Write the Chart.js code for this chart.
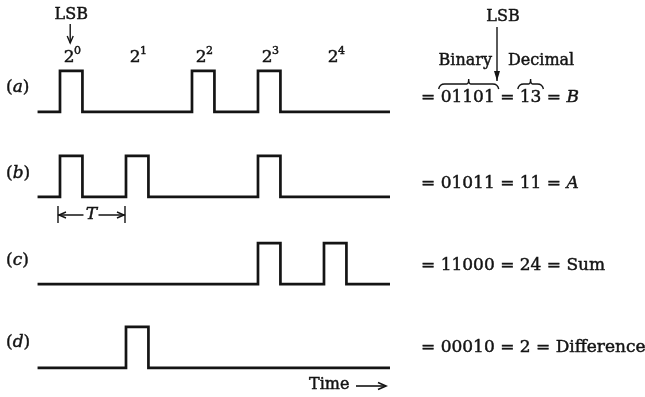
<!DOCTYPE html>
<html>
<head>
<meta charset="utf-8">
<script src="https://cdn.jsdelivr.net/npm/chart.js@4"></script>
<style>
  html, body { margin: 0; padding: 0; background: #fff; }
  #wrap { width: 645px; height: 397px; }
</style>
</head>
<body>
<div id="wrap"><canvas id="c" width="645" height="397"></canvas></div>
<script>
// ---- data (bit i = coefficient of 2^i, LSB first in time) ----
const exponents   = [0, 1, 2, 3, 4];
const rowLetters  = ['a', 'b', 'c', 'd'];
const bitsB       = [1, 0, 1, 1, 0];   // 01101 = 13 = B
const bitsA       = [1, 1, 0, 1, 0];   // 01011 = 11 = A
const bitsSum     = [0, 0, 0, 1, 1];   // 11000 = 24 = Sum
const bitsDiff    = [0, 1, 0, 0, 0];   // 00010 = 2 = Difference
const binaryText  = ['01101', '01011', '11000', '00010'];
const decimalText = ['13', '11', '24', '2'];
const nameText    = ['B', 'A', 'Sum', 'Difference'];

const rows = [bitsB, bitsA, bitsSum, bitsDiff];

// ---- layout ----
const rowBase = [0, -2.07, -4.2, -6.24];
const PULSE_W = 0.34;
const LINE_START = -0.34, LINE_END = 5.0;

function pulseTrain(bits, base) {
  const pts = [{x: LINE_START, y: base}];
  bits.forEach((b, i) => {
    if (b) {
      pts.push({x: i, y: base}, {x: i, y: base + 1},
               {x: i + PULSE_W, y: base + 1}, {x: i + PULSE_W, y: base});
    }
  });
  pts.push({x: LINE_END, y: base});
  return pts;
}

const SERIF = '"DejaVu Serif", serif';
const INK = '#141414';

function ft(ctx, t, x, y) {
  ctx.fillText(t, x, y);
  const lw = ctx.lineWidth;
  ctx.lineWidth = 0.45;
  ctx.strokeText(t, x, y);
  ctx.lineWidth = lw;
}

function drawRuns(ctx, x, y, parts) {
  const pos = [];
  parts.forEach(p => {
    ctx.font = p.f;
    const w = ctx.measureText(p.t).width;
    ft(ctx, p.t, x, y);
    pos.push({x0: x, x1: x + w});
    x += w;
  });
  return pos;
}

function arrowHead(ctx, x, y, dir, len, half) {
  ctx.beginPath();
  if (dir === 'down') { ctx.moveTo(x - half, y - len); ctx.lineTo(x, y); ctx.lineTo(x + half, y - len); }
  if (dir === 'left') { ctx.moveTo(x + len, y - half); ctx.lineTo(x, y); ctx.lineTo(x + len, y + half); }
  if (dir === 'right') { ctx.moveTo(x - len, y - half); ctx.lineTo(x, y); ctx.lineTo(x - len, y + half); }
  ctx.stroke();
}

function brace(ctx, x1, x2, y) {
  const mid = (x1 + x2) / 2;
  ctx.beginPath();
  ctx.moveTo(x1, y + 5);
  ctx.quadraticCurveTo(x1 + 1, y, x1 + 6, y);
  ctx.lineTo(mid - 2, y);
  ctx.quadraticCurveTo(mid, y, mid, y - 5);
  ctx.quadraticCurveTo(mid, y, mid + 2, y);
  ctx.lineTo(x2 - 6, y);
  ctx.quadraticCurveTo(x2 - 1, y, x2, y + 5);
  ctx.stroke();
}

const annotations = {
  id: 'annotations',
  afterDraw(chart) {
    const ctx = chart.ctx;
    const xs = chart.scales.x;
    ctx.save();
    ctx.fillStyle = INK;
    ctx.strokeStyle = INK;
    ctx.lineWidth = 1.4;
    ctx.textBaseline = 'middle';
    const R = '17px ' + SERIF, I = 'italic 17px ' + SERIF;

    // exponent labels 2^i
    exponents.forEach(e => {
      const cx = xs.getPixelForValue(e + PULSE_W / 2);
      ctx.font = R;
      ctx.textAlign = 'left';
      const w2 = ctx.measureText('2').width;
      ft(ctx, '2', cx - w2 / 2 - 2, 58);
      ctx.font = '11px ' + SERIF;
      ft(ctx, String(e), cx + w2 / 2 - 2.5, 51);
    });

    // LSB above 2^0
    const lx = xs.getPixelForValue(PULSE_W / 2) - 1;
    ctx.font = '16px ' + SERIF;
    ctx.textAlign = 'center';
    ft(ctx, 'LSB', lx + 1, 15);
    ctx.beginPath(); ctx.moveTo(lx, 24); ctx.lineTo(lx, 43); ctx.stroke();
    arrowHead(ctx, lx, 43, 'down', 7, 3);

    // row labels (a)...(d)
    ctx.textAlign = 'left';
    const labelY = [88, 174, 261, 343];
    rowLetters.forEach((l, r) => {
      drawRuns(ctx, 6, labelY[r], [{t: '(', f: R}, {t: l, f: I}, {t: ')', f: R}]);
    });

    // T period marker
    const tx0 = xs.getPixelForValue(0) - 2, tx1 = xs.getPixelForValue(1) - 1;
    const ty = 215;
    ctx.beginPath();
    ctx.moveTo(tx0, 206); ctx.lineTo(tx0, 223);
    ctx.moveTo(tx1, 206); ctx.lineTo(tx1, 223);
    const tmid = (tx0 + tx1) / 2;
    ctx.moveTo(tx0, ty); ctx.lineTo(tmid - 8, ty);
    ctx.moveTo(tmid + 7, ty); ctx.lineTo(tx1, ty);
    ctx.stroke();
    arrowHead(ctx, tx0 + 1, ty, 'left', 7, 3);
    arrowHead(ctx, tx1 - 1, ty, 'right', 7, 3);
    ctx.font = I; ctx.textAlign = 'center';
    ft(ctx, 'T', tmid, ty);

    // Time arrow
    ctx.textAlign = 'left';
    ctx.font = '16px ' + SERIF;
    ft(ctx, 'Time', 309, 385);
    ctx.lineWidth = 1.6;
    ctx.beginPath(); ctx.moveTo(356, 386); ctx.lineTo(386, 386); ctx.stroke();
    arrowHead(ctx, 386, 386, 'right', 8, 3.5);
    ctx.lineWidth = 1.4;

    // right-hand equations
    const eqY = [98, 184, 266, 348];
    const eqX = 421;
    let braceInfo = null;
    rows.forEach((bits, r) => {
      const nameFont = nameText[r].length === 1 ? I : R;
      const pos = drawRuns(ctx, eqX, eqY[r], [
        {t: '= ', f: R}, {t: binaryText[r], f: R}, {t: ' = ', f: R},
        {t: decimalText[r], f: R}, {t: ' = ', f: R}, {t: nameText[r], f: nameFont}
      ]);
      if (r === 0) braceInfo = pos;
    });
    // braces + Binary/Decimal + LSB arrow for row (a)
    const by = 84;
    brace(ctx, braceInfo[1].x0 - 2, braceInfo[1].x1 + 4, by);
    brace(ctx, braceInfo[3].x0 - 2, braceInfo[3].x1 + 2, by);
    ctx.font = '16px ' + SERIF;
    ctx.textAlign = 'right';
    ft(ctx, 'Binary', 492, 61);
    ctx.textAlign = 'left';
    ft(ctx, 'Decimal', 508, 61);
    ctx.textAlign = 'center';
    ft(ctx, 'LSB', 503, 17);
    const ax = 497;
    ctx.beginPath(); ctx.moveTo(ax, 27); ctx.lineTo(ax, 81); ctx.stroke();
    ctx.beginPath(); ctx.moveTo(ax - 3, 71); ctx.lineTo(ax, 81); ctx.lineTo(ax + 3, 71); ctx.closePath(); ctx.fill();

    ctx.restore();
  }
};

new Chart(document.getElementById('c'), {
  type: 'scatter',
  data: {
    datasets: rows.map((bits, r) => ({
      label: '(' + rowLetters[r] + ')',
      data: pulseTrain(bits, rowBase[r]),
      showLine: true,
      borderColor: INK,
      borderWidth: 2.7,
      pointRadius: 0,
      fill: false,
      tension: 0
    }))
  },
  options: {
    responsive: false,
    animation: false,
    devicePixelRatio: 1,
    layout: { padding: 0 },
    plugins: { legend: { display: false }, tooltip: { enabled: false } },
    scales: {
      x: { type: 'linear', min: -0.909, max: 8.864, display: false },
      y: { type: 'linear', min: -6.95, max: 2.73, display: false }
    }
  },
  plugins: [annotations]
});
</script>
</body>
</html>
